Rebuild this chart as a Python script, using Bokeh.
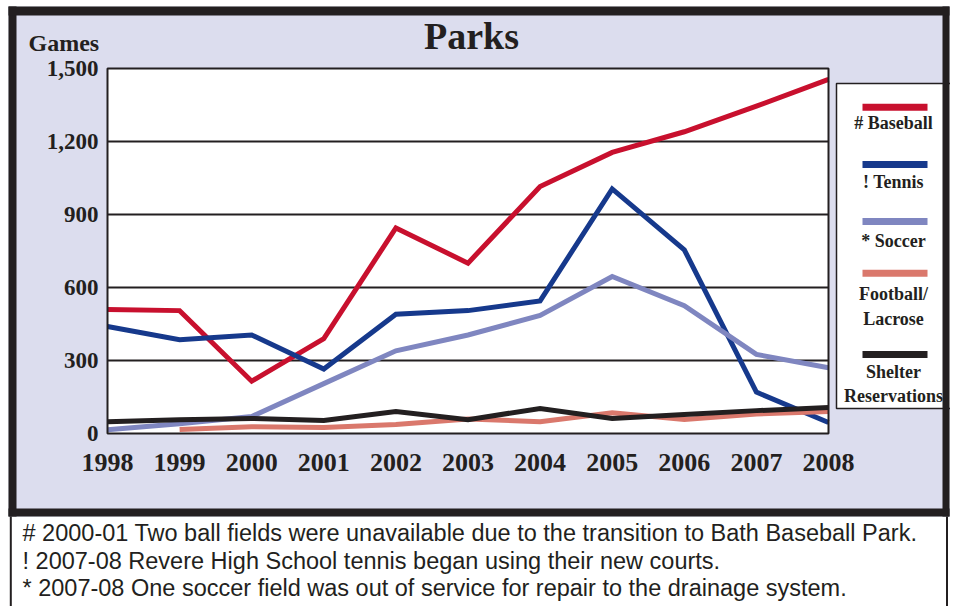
from bokeh.plotting import figure
from bokeh.models import Range1d, LinearAxis, FixedTicker, NumeralTickFormatter
from bokeh.core.properties import value
from bokeh.embed import file_html
from bokeh.resources import INLINE

# ---------------- data ----------------
years = [1998, 1999, 2000, 2001, 2002, 2003, 2004, 2005, 2006, 2007, 2008]
year_labels = ["1998", "1999", "2000", "2001", "2002", "2003", "2004", "2005", "2006", "2007", "2008"]
y_ticks = [0, 300, 600, 900, 1200, 1500]
y_tick_labels = ["0", "300", "600", "900", "1,200", "1,500"]

baseball = [510, 505, 215, 390, 845, 700, 1015, 1155, 1240, 1345, 1455]
tennis = [440, 385, 405, 265, 490, 505, 545, 1005, 755, 170, 45]
soccer = [15, 40, 70, 205, 340, 405, 485, 645, 525, 325, 270]
football = [None, 16, 28, 25, 37, 60, 48, 85, 58, 80, 90]
shelter = [48, 57, 62, 53, 90, 57, 103, 62, 78, 94, 107]

series = [baseball, tennis, soccer, football, shelter]
legend_labels = [["# Baseball"], ["! Tennis"], ["* Soccer"], ["Football/", "Lacrose"], ["Shelter", "Reservations"]]

chart_title = "Parks"
y_title = "Games"
footnotes = [
    "# 2000-01 Two ball fields were unavailable due to the transition to Bath Baseball Park.",
    "! 2007-08 Revere High School tennis began using their new courts.",
    "* 2007-08 One soccer field was out of service for repair to the drainage system.",
]

# ---------------- style / layout ----------------
colors = ["#C8102E", "#16398C", "#7F86C0", "#DA786C", "#231F20"]
INK = "#231F20"
LAV = "#DCDDEE"
SERIF = "Liberation Serif"
SANS = "Liberation Sans"

W, H = 950, 606
PL, PR, PT, PB = 107, 828, 68, 433
YMAX = y_ticks[-1]
sx = (PR - PL) / (years[-1] - years[0])
sy = (PB - PT) / YMAX
x0 = years[0] - PL / sx
x1 = x0 + W / sx
ytop = YMAX + PT / sy
ybot = ytop - H / sy


def X(px):
    return x0 + px / sx


def Y(py):
    return ytop - py / sy


p = figure(width=W, height=H, x_range=Range1d(x0, x1), y_range=Range1d(ybot, ytop),
           toolbar_location=None, output_backend="svg",
           x_axis_location=None, y_axis_location=None)
p.min_border = 0
p.min_border_left = 0
p.min_border_right = 0
p.min_border_top = 0
p.min_border_bottom = 0
p.title.visible = False
p.outline_line_color = None
p.background_fill_color = "white"
p.border_fill_color = "white"
p.xgrid.visible = False
p.ygrid.visible = False


def rect(l, r, t, b, **kw):
    p.quad(left=[X(l)], right=[X(r)], top=[Y(t)], bottom=[Y(b)], **kw)


# lavender panel and white plotting area
rect(8, 949, 6, 516, fill_color=LAV, line_color=None)
rect(PL, PR, PT, PB, fill_color="white", line_color=None)

# gridlines
gl = y_ticks[1:-1]
p.segment(x0=[years[0]] * len(gl), x1=[years[-1]] * len(gl), y0=gl, y1=gl,
          line_color=INK, line_width=2)

# data lines
for vals, col in zip(series, colors):
    ys = [float("nan") if v is None else v for v in vals]
    p.line(years, ys, line_color=col, line_width=5, line_join="miter")

# plot frame
rect(PL, PR, PT, PB, fill_color=None, line_color=INK, line_width=2)

# legend
rect(836, 955, 83, 408, fill_color="white", line_color=INK, line_width=1.5)
sample_y = [106.7, 164, 221, 272.7, 354]
label_y = [[122.7], [181.7], [240], [293.3, 318.3], [371.7, 395]]
for col, sy_, lys, labs in zip(colors, sample_y, label_y, legend_labels):
    p.segment(x0=[X(862)], x1=[X(927)], y0=[Y(sy_)], y1=[Y(sy_)],
              line_color=col, line_width=7)
    p.text(x=[X(893)] * len(labs), y=[Y(v) for v in lys], text=labs,
           text_font=value(SERIF), text_font_style="bold", text_font_size="18px",
           text_color=INK, text_align="center", text_baseline="middle")

# black frame bands
rect(8, 16, 6, 516, fill_color=INK, line_color=None)
rect(942, 949, 6, 516, fill_color=INK, line_color=None)
rect(8, 949, 6, 15, fill_color=INK, line_color=None)
rect(8, 949, 508, 516, fill_color=INK, line_color=None)

# footnote box borders
p.segment(x0=[X(10.3), X(946.5)], x1=[X(10.3), X(946.5)], y0=[Y(516)] * 2, y1=[Y(H + 5)] * 2,
          line_color=INK, line_width=2)

# title and y title
p.text(x=[X(471)], y=[Y(35)], text=[chart_title], text_font=value(SERIF),
       text_font_style="bold", text_font_size="38px", text_color=INK,
       text_align="center", text_baseline="middle")
p.text(x=[X(28)], y=[Y(42)], text=[y_title], text_font=value(SERIF),
       text_font_style="bold", text_font_size="24px", text_color=INK,
       text_align="left", text_baseline="middle")

# footnotes
fy = [532.5, 560, 587]
p.text(x=[X(22)] * 3, y=[Y(v) for v in fy], text=footnotes, text_font=value(SANS),
       text_font_size="23.5px", text_color=INK, text_align="left", text_baseline="middle")

# axes
yaxis = LinearAxis(fixed_location=years[0], ticker=FixedTicker(ticks=y_ticks),
                   formatter=NumeralTickFormatter(format="0,0"))
yaxis.major_label_overrides = dict(zip(y_ticks, y_tick_labels))
xaxis = LinearAxis(fixed_location=0, ticker=FixedTicker(ticks=years))
xaxis.major_label_overrides = dict(zip(years, year_labels))
for ax, size, standoff in ((yaxis, "23px", 9), (xaxis, "26px", 20)):
    ax.axis_line_color = None
    ax.major_tick_in = 0
    ax.major_tick_out = 0
    ax.minor_tick_in = 0
    ax.minor_tick_out = 0
    ax.major_label_standoff = standoff
    ax.major_label_text_font = SERIF
    ax.major_label_text_font_style = "bold"
    ax.major_label_text_font_size = size
    ax.major_label_text_color = INK
p.add_layout(yaxis, "left")
p.add_layout(xaxis, "below")

open("out.html", "w").write(file_html(p, INLINE))
